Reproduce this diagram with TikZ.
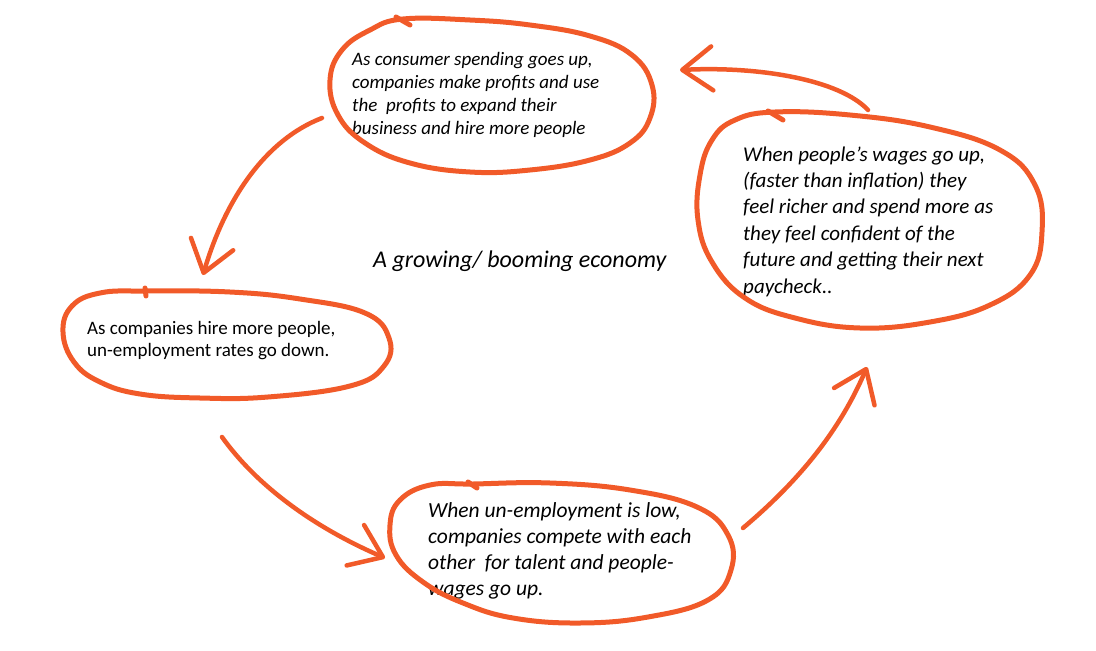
\documentclass[tikz,border=0pt]{standalone}
\usepackage{fontspec}
\setmainfont{Carlito}
\usepackage{xcolor}
\usepackage{tikz}
\usetikzlibrary{arrows.meta,calc}
\definecolor{marker}{RGB}{241,90,41}

\begin{document}
\begin{tikzpicture}[x=1pt, y=-1pt, >={Straight Barb[length=30pt,width=44pt,round]}]
\tikzstyle{note}=[inner sep=0pt, anchor=base west, align=left, font=\itshape\fontsize{19}{22.7}\selectfont]
\tikzstyle{bignote}=[note, font=\itshape\fontsize{21}{26.4}\selectfont]
\tikzstyle{loop}=[draw=marker, line width=5pt, line cap=round, line join=round]
\tikzstyle{sweep}=[->, draw=marker, line width=4.5pt, line cap=round]
\useasboundingbox (0,0) rectangle (1096,651);
% the four stages and the title (base = last line)
\node[note] (spend) at (352,134) {As consumer spending goes up,\\companies make profits and use\\the~ profits to expand their\\business and hire more people};
\node[bignote] (wages) at (743,293) {When people’s wages go up,\\(faster than inflation) they\\feel richer and spend more as\\they feel confident of the\\future and getting their next\\paycheck..};
\node[note, font=\fontsize{19}{22}\selectfont] (hire) at (87,356) {As companies hire more people,\\un-employment rates go down.};
\node[bignote, font=\itshape\fontsize{21.5}{26}\selectfont] (compete) at (428,595) {When un-employment is low,\\companies compete with each\\other~ for talent and people-\\wages go up.};
\node[note, font=\itshape\fontsize{24}{28}\selectfont] (economy) at (373,267) {A growing/ booming economy};
% hand drawn rings
\draw[loop] plot[smooth cycle, tension=0.7] coordinates {(403,19) (470,20) (530,25) (590,36) (632,55) (652,85) (650,118) (630,143) (590,160) (530,170) (470,172) (410,163) (365,143) (338,115) (330,80) (342,50) (370,30)};
\draw[loop] (396,17) -- (410,25);
\draw[loop] plot[smooth cycle, tension=0.7] coordinates {(775,112) (850,115) (930,127) (1000,150) (1035,185) (1042,232) (1030,275) (990,305) (930,322) (860,328) (795,318) (745,298) (712,262) (698,220) (700,175) (712,140) (735,120)};
\draw[loop] (768,111) -- (783,120);
\draw[loop] plot[smooth cycle, tension=0.7] coordinates {(145,291) (230,292) (300,299) (365,313) (389,338) (384,366) (350,386) (268,397) (200,398) (140,394) (100,382) (74,362) (63,332) (72,306) (100,293)};
\draw[loop] (145,288) -- (146,296);
\draw[loop] plot[smooth cycle, tension=0.7] coordinates {(473,484) (550,483) (630,490) (697,507) (728,535) (731,570) (708,600) (648,617) (580,623) (513,618) (463,603) (423,582) (396,555) (390,525) (400,500) (430,485)};
\draw[loop] (468,482) -- (477,488);
% arrow ends
\coordinate (wages-out) at (868,110);
\coordinate (spend-in) at (680,70);
\coordinate (spend-out) at (322,118);
\coordinate (hire-in) at (203,275);
\coordinate (hire-out) at (222,437);
\coordinate (compete-in) at (385,558);
\coordinate (compete-out) at (743,528);
\coordinate (wages-in) at (867,367);
\draw[sweep] (wages-out) .. controls (840,80) and (760,66) .. (spend-in);
\draw[sweep] (spend-out) .. controls (265,140) and (225,200) .. (hire-in);
\draw[sweep] (hire-out) .. controls (260,490) and (320,530) .. (compete-in);
\draw[sweep] (compete-out) .. controls (800,480) and (840,430) .. (wages-in);
\end{tikzpicture}
\end{document}
